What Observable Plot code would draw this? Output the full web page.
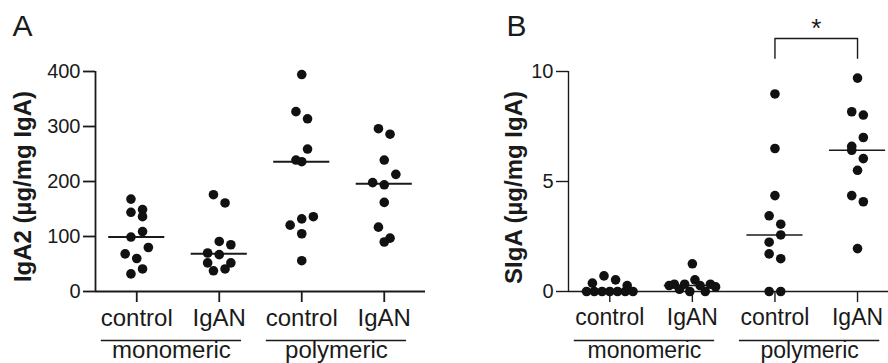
<!DOCTYPE html>
<html><head><meta charset="utf-8">
<script src="https://cdn.jsdelivr.net/npm/d3@7"></script>
<script src="https://cdn.jsdelivr.net/npm/@observablehq/plot@0.6"></script>
<style>
body{margin:0;background:#fff;}
#wrap{display:flex;width:888px;height:363px;overflow:hidden;}
#wrap > *{flex:none;margin:0;}
</style></head><body><div id="wrap"></div>
<script>
const groups = ["monomeric", "polymeric"];
const conditions = ["control", "IgAN"];

// Panel A: IgA2 (µg/mg IgA)
const iga2MonoControl = [168, 149, 144, 136, 99, 109, 68.5, 60, 80, 32, 41];
const iga2MonoIgAN = [176, 161, 70, 91, 85, 52, 67, 52, 37.6, 41];
const iga2PolyControl = [394.5, 327, 314, 239, 259, 236, 120.6, 132, 136, 105, 56];
const iga2PolyIgAN = [296, 286, 239, 198, 194, 213, 162, 117, 90, 97];
const iga2Ticks = [0, 100, 200, 300, 400];

// Panel B: SIgA (µg/mg IgA)
const sigaMonoControl = [0.38, 0.71, 0.53, 0.27, 0, 0, 0, 0, 0, 0, 0];
const sigaMonoIgAN = [1.26, 0.27, 0.33, 0.1, 0.33, 0, 0.53, 0.27, 0, 0.33, 0.21];
const sigaPolyControl = [8.98, 6.5, 4.36, 3.44, 3.06, 2.24, 2.57, 1.71, 1.49, 0, 0];
const sigaPolyIgAN = [9.7, 8.17, 8.02, 6.6, 7.0, 6.42, 6.04, 5.51, 4.36, 4.08, 1.95];
const sigaTicks = [0, 5, 10];
const sigaComparisons = [{from: 3, to: 4, label: "*"}];

const FONT = "'Liberation Sans', Arial, Helvetica, sans-serif";
const INK = "#1a1a1a";

function panel(o) {
  const W = 444, H = 363, mt = 71, mb = 72;
  const {marginLeft, marginRight, xMax, yDomain, sw, catSize} = o;
  const pxX = (W - marginLeft - marginRight) / (xMax - 0.5);
  const pxY = (H - mt - mb) / (yDomain[1] - yDomain[0]);
  const slot = 11.6, rowGap = 12;
  const pts = [];
  o.series.forEach((vals, k) => {
    const cx = k + 1;
    const order = d3.range(vals.length).sort((a, b) => vals[b] - vals[a] || a - b);
    const rows = [];
    for (const i of order) {
      const row = rows[rows.length - 1];
      if (row && (vals[row[0]] - vals[i]) * pxY < rowGap) row.push(i); else rows.push([i]);
    }
    for (const row of rows) {
      row.sort((a, b) => a - b);
      const n = row.length;
      const sp = n <= 5 ? slot : 4 * slot / (n - 1);
      row.forEach((i, j) => pts.push({x: cx + (j - (n - 1) / 2) * sp / pxX, y: vals[i]}));
    }
  });
  const medians = o.series.map((vals, k) => ({i: k + 1, m: d3.median(vals)}));
  const spans = groups.map((g, gi) => ({label: g, x1: gi * 2 + 1 - 0.43, x2: gi * 2 + 2 + 0.27}));
  const catTicks = d3.range(1, groups.length * conditions.length + 1);
  const marks = [
    Plot.ruleY([yDomain[0]], {stroke: INK, strokeWidth: sw}),
    Plot.ruleX([0.5], {stroke: INK, strokeWidth: sw}),
    Plot.axisY({ticks: o.yTicks, tickSize: 12, tickPadding: 3, fontSize: 20, label: null, strokeWidth: sw}),
    Plot.axisX({ticks: catTicks, tickFormat: i => conditions[(i - 1) % conditions.length], tickSize: 11, tickPadding: 6, fontSize: catSize, label: null, strokeWidth: sw}),
    Plot.ruleY(spans, {x1: "x1", x2: "x2", y: () => yDomain[0], dy: 49, stroke: INK, strokeWidth: 1.4}),
    Plot.text(spans, {x: d => (d.x1 + d.x2) / 2, y: () => yDomain[0], dy: 66.5, text: "label", fontSize: catSize, lineAnchor: "bottom", fill: INK}),
    Plot.ruleY(medians, {x1: d => d.i - 0.34, x2: d => d.i + 0.34, y: "m", stroke: INK, strokeWidth: sw + 0.2}),
    Plot.dot(pts, {x: "x", y: "y", r: 4.8, fill: "#111", stroke: "none"}),
    Plot.text([o.yLabel], {frameAnchor: "left", dx: o.labelDx, dy: o.labelDy, rotate: -90, text: d => d, fontSize: 24, fontWeight: "bold", lineAnchor: "top", textAnchor: "middle", fill: INK}),
    Plot.text([o.letter], {frameAnchor: "top-left", dx: o.letterDx, dy: -36, text: d => d, fontSize: 30, lineAnchor: "bottom", textAnchor: "start", fill: INK})
  ];
  if (o.comparisons) {
    const lo = yDomain[1] * 1.06, hi = yDomain[1] * 1.15;
    const bracket = o.comparisons.flatMap((c, ci) => [
      {z: ci, x: c.from, y: lo}, {z: ci, x: c.from, y: hi}, {z: ci, x: c.to, y: hi}, {z: ci, x: c.to, y: lo}
    ]);
    marks.push(Plot.line(bracket, {x: "x", y: "y", z: "z", stroke: INK, strokeWidth: 1.4, curve: "linear"}));
    marks.push(Plot.text(o.comparisons, {x: d => (d.from + d.to) / 2, y: () => hi, dy: -2, text: "label", fontSize: 26, lineAnchor: "bottom", fill: INK}));
  }
  return Plot.plot({
    width: W, height: H, marginTop: mt, marginBottom: mb, marginLeft, marginRight,
    x: {domain: [0.5, xMax]},
    y: {domain: yDomain},
    style: {fontFamily: FONT, color: INK, background: "white"},
    marks
  });
}

const wrap = document.getElementById("wrap");
wrap.append(panel({
  letter: "A", yLabel: "IgA2 (µg/mg IgA)",
  series: [iga2MonoControl, iga2MonoIgAN, iga2PolyControl, iga2PolyIgAN],
  yDomain: [0, 400], yTicks: iga2Ticks, marginLeft: 95, marginRight: 19, xMax: 4.5,
  sw: 1.8, catSize: 24, labelDx: -82, labelDy: 5, letterDx: -83
}));
wrap.append(panel({
  letter: "B", yLabel: "SIgA (µg/mg IgA)",
  series: [sigaMonoControl, sigaMonoIgAN, sigaPolyControl, sigaPolyIgAN],
  yDomain: [0, 10], yTicks: sigaTicks, marginLeft: 124, marginRight: 0, xMax: 4.375,
  sw: 1.4, catSize: 23, labelDx: -64, labelDy: 6, letterDx: -62,
  comparisons: sigaComparisons
}));
</script></body></html>
